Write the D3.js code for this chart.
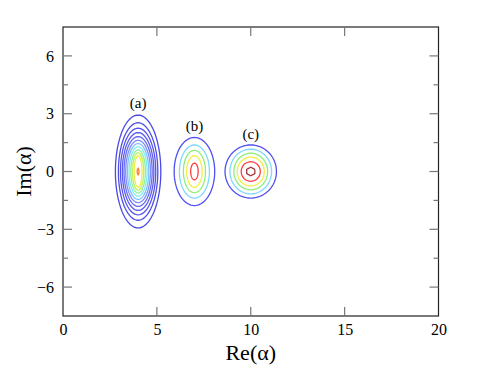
<!DOCTYPE html>
<html><head><meta charset="utf-8">
<script src="https://cdn.jsdelivr.net/npm/d3@7"></script>
<style>body{margin:0;background:#fff}svg{display:block}</style>
</head><body><svg id="c" width="485" height="365"></svg>
<script>
// ---- data ----
const xTicks = [0, 5, 10, 15, 20];
const yTicks = [-6, -3, 0, 3, 6];
const yMinor = [-4.5, -1.5, 1.5, 4.5];
const states = ["(a)", "(b)", "(c)"];
const centersRe = [4, 7, 10];
const centersIm = [0, 0, 0];
const labelIm = [3.3, 2.1, 1.7];
// semi-axes of each contour (outer -> inner), data units
const rxA = [1.21, 1.05, 0.94, 0.84, 0.75, 0.66, 0.57, 0.48, 0.39, 0.30, 0.21, 0.05];
const ryA = [2.93, 2.53, 2.25, 2.02, 1.81, 1.62, 1.45, 1.28, 1.12, 0.97, 0.81, 0.17];
const colA = ["#4a4ae6","#4f4fe8","#5555ee","#5c5cf0","#6a6af4","#7f8ff8","#80c0ff","#80ecf0","#90f0a0","#c0f060","#f0f040","#ff8020"];
const rxB = [1.08, 0.80, 0.59, 0.41, 0.20];
const ryB = [1.77, 1.38, 1.10, 0.82, 0.43];
const colB = ["#5050f0","#80d8ff","#90ee80","#f0f040","#ff4040"];
const rxC = [1.37, 1.11, 0.90, 0.72, 0.51, 0.25];
const ryC = [1.38, 1.16, 0.95, 0.75, 0.51, 0.22];
const colC = ["#5050f0","#80d8ff","#90ee80","#f0f040","#ff4040","#a03838"];
const segC = [72, 72, 72, 72, 24, 6];

const FONT = "'Liberation Serif', 'Times New Roman', Times, serif";
const m = {l: 63, r: 438.5, t: 27, b: 316};
const x = d3.scaleLinear().domain([0, 20]).range([m.l, m.r]);
const y = d3.scaleLinear().domain([-7.5, 7.5]).range([m.b, m.t]);
const svg = d3.select("#c").style("font-family", FONT);
const fmt = d => d < 0 ? "\u2212" + Math.abs(d) : String(d);

// contours
const sets = [
  {rx: rxA, ry: ryA, col: colA, seg: rxA.map((d,i)=> i === rxA.length-1 ? 8 : 72)},
  {rx: rxB, ry: ryB, col: colB, seg: rxB.map(()=>72)},
  {rx: rxC, ry: ryC, col: colC, seg: segC}
];
const line = d3.line().x(d => x(d[0])).y(d => y(d[1]));
sets.forEach((s, k) => {
  const g = svg.append("g");
  s.rx.forEach((rx, i) => {
    const n = s.seg[i], pts = [];
    for (let j = 0; j <= n; j++) {
      const t = j / n * 2 * Math.PI + (n === 6 ? Math.PI / 6 : 0);
      pts.push([centersRe[k] + rx * Math.cos(t), centersIm[k] + s.ry[i] * Math.sin(t)]);
    }
    g.append("path").attr("d", line(pts)).attr("fill", "none")
      .attr("stroke", s.col[i]).attr("stroke-width", 1.3);
  });
  svg.append("text").attr("x", x(centersRe[k])).attr("y", y(labelIm[k]))
    .attr("text-anchor", "middle").style("font-family", FONT).style("font-size", "15px").text(states[k]);
});

// frame
svg.append("rect").attr("x", m.l).attr("y", m.t).attr("width", m.r - m.l).attr("height", m.b - m.t)
  .attr("fill", "none").attr("stroke", "#222").attr("stroke-width", 1.2);

// axes with inward ticks
const tc = "#777";
const ax = svg.append("g").attr("transform", `translate(0,${m.b})`)
  .call(d3.axisBottom(x).tickValues(xTicks).tickSize(0).tickPadding(8).tickFormat(fmt));
ax.attr("font-family", null).attr("font-size", null);
ax.select(".domain").remove();
ax.selectAll("text").style("font-family", FONT).style("font-size", "16px").attr("fill", "#000");
const ay = svg.append("g").attr("transform", `translate(${m.l},0)`)
  .call(d3.axisLeft(y).tickValues(yTicks).tickSize(0).tickPadding(9).tickFormat(fmt));
ay.attr("font-family", null).attr("font-size", null);
ay.select(".domain").remove();
ay.selectAll("text").style("font-family", FONT).style("font-size", "16px").attr("fill", "#000");

const tg = svg.append("g").attr("stroke", tc).attr("stroke-width", 1.2);
xTicks.filter(v => v > 0 && v < 20).forEach(v => {
  tg.append("line").attr("x1", x(v)).attr("x2", x(v)).attr("y1", m.b).attr("y2", m.b - 9);
  tg.append("line").attr("x1", x(v)).attr("x2", x(v)).attr("y1", m.t).attr("y2", m.t + 9);
});
yTicks.forEach(v => {
  tg.append("line").attr("y1", y(v)).attr("y2", y(v)).attr("x1", m.l).attr("x2", m.l + 9);
  tg.append("line").attr("y1", y(v)).attr("y2", y(v)).attr("x1", m.r).attr("x2", m.r - 9);
});
yMinor.forEach(v => {
  tg.append("line").attr("y1", y(v)).attr("y2", y(v)).attr("x1", m.l).attr("x2", m.l + 5);
  tg.append("line").attr("y1", y(v)).attr("y2", y(v)).attr("x1", m.r).attr("x2", m.r - 5);
});

// titles
svg.append("text").attr("x", (m.l + m.r) / 2).attr("y", 360).attr("text-anchor", "middle")
  .style("font-family", FONT).style("font-size", "22px").text("Re(\u03b1)");
svg.append("text").attr("transform", `translate(31,${(m.t + m.b) / 2}) rotate(-90)`)
  .attr("text-anchor", "middle").style("font-family", FONT).style("font-size", "22px").text("Im(\u03b1)");
</script></body></html>
